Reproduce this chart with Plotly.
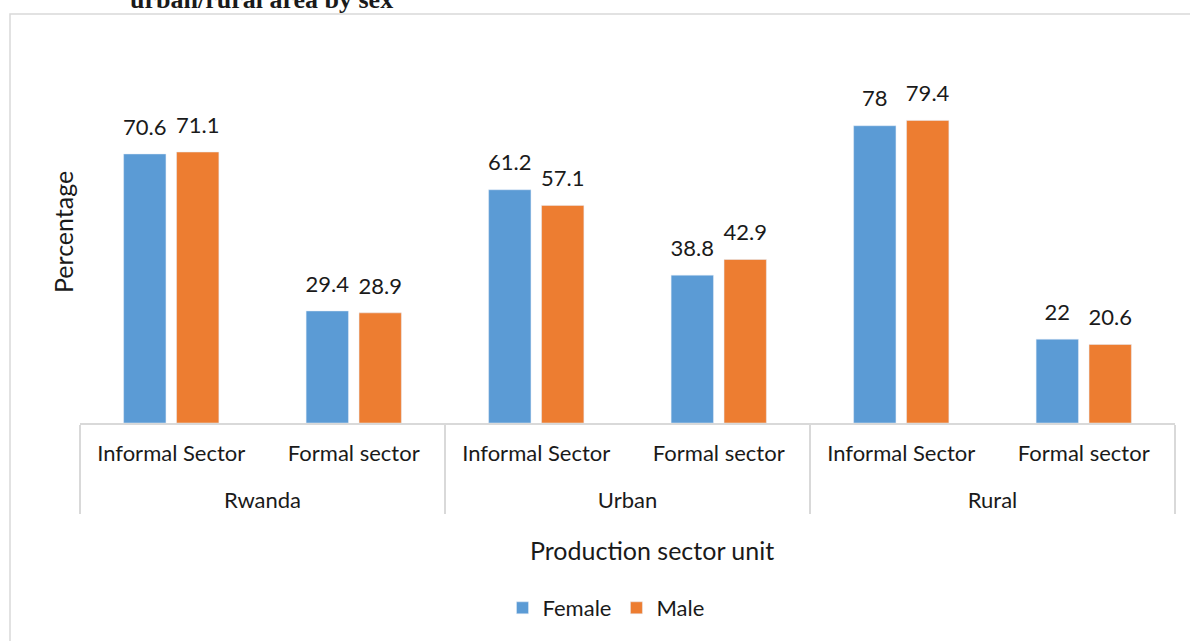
import plotly.graph_objects as go

areas = ["Rwanda", "Rwanda", "Urban", "Urban", "Rural", "Rural"]
sectors = ["Informal Sector", "Formal sector"] * 3
female = [70.6, 29.4, 61.2, 38.8, 78, 22]
male = [71.1, 28.9, 57.1, 42.9, 79.4, 20.6]

font_main = "Lato, 'Open Sans', sans-serif"
txt_color = "#1a1a1a"

# sector labels get a blank spacer line so the area row sits lower, like Excel
sector_labels = [s + "<br><span style='font-size:20px'>\u00a0</span>" for s in sectors]


def bar_labels(values):
    return [f"<span style='font-size:22px'>{v:g}</span><br><span style='font-size:8px'>\u00a0</span>"
            for v in values]


fig = go.Figure()
for name, vals, col in [("Female", female, "#5B9BD5"), ("Male", male, "#ED7D31")]:
    fig.add_trace(go.Bar(
        x=[areas, sector_labels], y=vals, name=name,
        marker_color=col,
        text=bar_labels(vals), textposition="outside", constraintext="none",
        textfont=dict(size=11, color=txt_color), cliponaxis=False,
    ))

fig.update_layout(
    width=1190, height=641,
    margin=dict(l=80, r=15, t=80, b=218),
    plot_bgcolor="white", paper_bgcolor="white",
    barmode="group", bargap=0.42, bargroupgap=0.2,
    font=dict(family=font_main, size=22, color=txt_color),
    showlegend=True,
    legend=dict(orientation="h", x=(606 - 80) / 1095, xanchor="center",
                y=(423 - 608) / 343, yanchor="middle",
                font=dict(size=22), itemwidth=30),
    xaxis=dict(type="multicategory", showline=True, linecolor="#d9d9d9", linewidth=1.5,
               showdividers=True, dividercolor="#d9d9d9", dividerwidth=1.5,
               tickfont=dict(size=22, color=txt_color), ticks="", ticklabelstandoff=10),
    yaxis=dict(range=[0, 90], visible=False),
)

# outer chart frame (only left and top edges fall inside the picture)
fig.add_shape(type="rect", xref="paper", yref="paper",
              x0=(10 - 80) / 1095, x1=1.2, y0=-1.0, y1=(423 - 14) / 343,
              line=dict(color="#d9d9d9", width=1.5), layer="below")

# titles
fig.add_annotation(text="<b>urban/rural area by sex</b>", xref="paper", yref="paper",
                   x=(261 - 80) / 1095, y=(423 - 0) / 343, xanchor="center", yanchor="middle",
                   showarrow=False, font=dict(family="'Liberation Serif', serif", size=26, color=txt_color))
fig.add_annotation(text="Percentage", xref="paper", yref="paper",
                   x=(63 - 80) / 1095, y=(423 - 232) / 343, xanchor="center", yanchor="middle",
                   textangle=-90, showarrow=False, font=dict(size=25, color=txt_color))
fig.add_annotation(text="Production sector unit", xref="paper", yref="paper",
                   x=(652 - 80) / 1095, y=(423 - 550) / 343, xanchor="center", yanchor="middle",
                   showarrow=False, font=dict(size=25, color=txt_color))

fig.write_html("out.html", config={"displayModeBar": False},
               post_script="document.body.style.margin = '0px';")
